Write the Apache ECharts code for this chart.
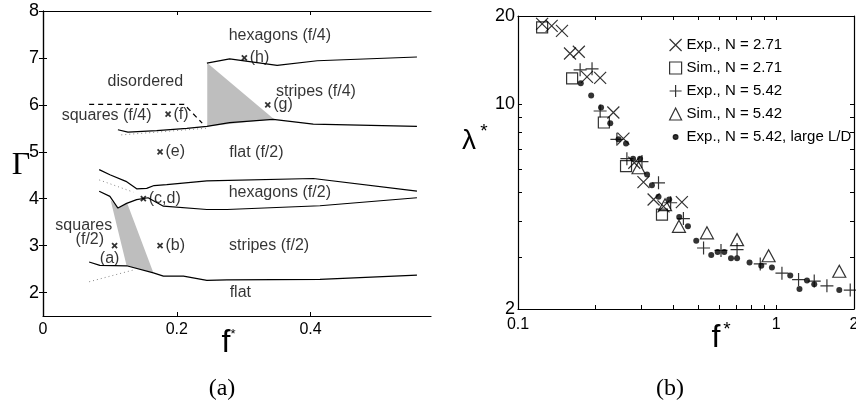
<!DOCTYPE html>
<html>
<head>
<meta charset="utf-8">
<script src="https://cdn.jsdelivr.net/npm/echarts@6/dist/echarts.min.js"></script>
<style>
html, body { margin: 0; padding: 0; background: #fff; }
#main { width: 856px; height: 404px; }
</style>
</head>
<body>
<div id="main"></div>
<script>
// ---------- panel (a): phase diagram, Gamma vs f* ----------
var lineFlatLow   = [[0.069,2.65],[0.085,2.58],[0.125,2.57],[0.165,2.42],[0.180,2.35],[0.210,2.35],[0.245,2.26],[0.275,2.27],[0.414,2.28],[0.559,2.37]];
var lineHexLow    = [[0.084,4.16],[0.100,4.05],[0.112,3.80],[0.125,3.90],[0.140,3.98],[0.157,4.02],[0.180,3.84],[0.245,3.77],[0.275,3.77],[0.414,3.85],[0.559,4.02]];
var lineHexHigh   = [[0.084,4.62],[0.100,4.51],[0.124,4.37],[0.140,4.21],[0.155,4.22],[0.166,4.28],[0.185,4.30],[0.245,4.38],[0.404,4.43],[0.559,4.16]];
var lineFlatF4    = [[0.112,5.47],[0.127,5.42],[0.170,5.45],[0.215,5.50],[0.245,5.54],[0.279,5.62],[0.344,5.69],[0.404,5.59],[0.559,5.54]];
var lineHexF4     = [[0.245,6.89],[0.279,6.98],[0.350,6.84],[0.410,6.94],[0.559,7.02]];
var dotLow        = [[0.069,2.23],[0.135,2.48]];
var dotHex        = [[0.084,4.40],[0.135,4.14]];
var dotF4         = [[0.117,5.36],[0.2435,5.50]];
var dashDisorder  = [[0.069,6.01],[0.211,6.01],[0.238,5.61]];
var shadeF2       = [[0.101,3.97],[0.112,3.80],[0.126,3.90],[0.165,2.42],[0.125,2.57]];
var shadeF4       = [[0.2455,6.89],[0.2455,5.54],[0.345,5.70]];

var pointNames = ['(a)', '(b)', '(c,d)', '(e)', '(f)', '(g)', '(h)'];
var pointF     = [0.107, 0.175, 0.150, 0.175, 0.187, 0.336, 0.301];
var pointG     = [3.0, 3.0, 4.0, 5.0, 5.8, 6.0, 7.0];

var regionNames = ['hexagons (f/4)', 'disordered', 'stripes (f/4)', 'squares (f/4)', 'flat (f/2)',
                   'hexagons (f/2)', 'squares', '(f/2)', 'stripes (f/2)', 'flat'];
var regionF     = [0.354, 0.153, 0.408, 0.095, 0.319, 0.354, 0.061, 0.070, 0.338, 0.295];
var regionG     = [7.48, 6.49, 6.29, 5.78, 4.99, 4.14, 3.43, 3.12, 2.99, 2.0];

var xTicksA = [0, 0.2, 0.4];
var yTicksA = [2, 3, 4, 5, 6, 7, 8];

// ---------- panel (b): lambda* vs f* (log-log) ----------
var expN271 = [[0.124,18.8],[0.135,18.5],[0.148,17.8],[0.159,14.9],[0.172,15.1],[0.185,12.4],[0.208,12.3],
               [0.234,9.37],[0.256,7.63],[0.282,6.31],[0.306,5.42],[0.335,4.73],[0.366,4.48],[0.431,4.63]];
var simN271 = [[0.124,18.3],[0.162,12.25],[0.215,8.66],[0.262,6.15],[0.361,4.20]];
var expN542 = [[0.174,13.1],[0.1935,13.2],[0.208,9.48],[0.2415,7.59],[0.264,6.52],[0.302,6.37],[0.350,5.39],
               [0.390,4.61],[0.437,4.07],[0.523,3.23],[0.611,3.17],[0.705,3.19],[0.867,2.85],[1.052,2.65],
               [1.22,2.52],[1.403,2.49],[1.571,2.40],[1.934,2.32]];
var simN542 = [[0.293,6.07],[0.371,4.54],[0.420,3.83],[0.539,3.64],[0.705,3.45],[0.934,3.04],[1.754,2.69]];
var expLarge = [[0.175,11.8],[0.192,10.7],[0.2097,9.74],[0.2276,8.61],[0.245,7.59],[0.262,7.35],[0.279,6.52],
                [0.297,6.52],[0.316,5.75],[0.330,5.29],[0.350,4.83],[0.385,4.73],[0.421,4.12],[0.455,3.83],
                [0.490,3.42],[0.560,3.06],[0.593,3.13],[0.629,3.13],[0.668,2.98],[0.705,2.98],[0.788,2.88],
                [0.875,2.81],[0.962,2.77],[1.133,2.60],[1.23,2.34],[1.315,2.50],[1.403,2.43],[1.754,2.32]];
var legendNames = ['Exp., N = 2.71', 'Sim., N = 2.71', 'Exp., N = 5.42', 'Sim., N = 5.42', 'Exp., N = 5.42, large L/D'];

var xLabelsB = [0.1, 1, 2];
var xTicksB  = [0.2, 0.3, 0.4, 0.5, 0.6, 0.7, 0.8, 0.9, 1];
var yLabelsB = [2, 10, 20];
var yTicksB  = [3, 4, 5, 6, 7, 8, 9, 10];

var FONT = '"Liberation Sans", Arial, sans-serif';
var SERIF = '"Liberation Serif", "DejaVu Serif", serif';

var crossPath = 'path://M0,0L10,10M10,0L0,10';
var plusPath = 'path://M5,0L5,10M0,5L10,5';
var dotIcon = 'path://M0,0M12,12M3.6,6A2.4,2.4 0 1 1 8.4,6A2.4,2.4 0 1 1 3.6,6Z';

var myChart = echarts.init(document.getElementById('main'));

function lineA(data, type, color, width) {
    return {
        type: 'line', xAxisIndex: 0, yAxisIndex: 0,
        data: data, symbol: 'none', silent: true, animation: false,
        lineStyle: { color: color, width: width, type: type }
    };
}

function shadeA(pts) {
    return {
        type: 'custom', xAxisIndex: 0, yAxisIndex: 0, silent: true, animation: false, z: 1,
        data: pts,
        renderItem: function (params, api) {
            if (params.dataIndex !== 0) return;
            return {
                type: 'polygon',
                shape: { points: pts.map(function (p) { return api.coord(p); }) },
                style: { fill: '#bebebe' }
            };
        }
    };
}

var pointData = pointNames.map(function (n, i) {
    var item = { name: n, value: [pointF[i], pointG[i]] };
    if (n === '(a)') {
        item.label = { position: 'bottom', offset: [-5, 0], distance: 2 };
    }
    return item;
});

var regionData = regionNames.map(function (n, i) {
    return { name: n, value: [regionF[i], regionG[i]] };
});

function boxTicks(values, len) {
    return { show: true, inside: true, length: len, customValues: values, lineStyle: { color: '#000', width: 1 } };
}

option = {
    animation: false,
    backgroundColor: '#fff',
    grid: [
        { left: 43, top: 11, width: 388, height: 305, outerBoundsMode: 'none' },
        { left: 518, top: 16, width: 336, height: 293, outerBoundsMode: 'none' }
    ],
    xAxis: [
        { gridIndex: 0, type: 'value', min: 0, max: 0.58, position: 'bottom',
          axisLine: { lineStyle: { color: '#000', width: 1.2 } },
          axisTick: boxTicks(xTicksA, 4),
          axisLabel: { customValues: xTicksA, margin: 6, color: '#000', fontSize: 16, fontFamily: FONT },
          splitLine: { show: false } },
        { gridIndex: 0, type: 'value', min: 0, max: 0.58, position: 'top',
          axisLine: { lineStyle: { color: '#000', width: 1.2 } },
          axisTick: boxTicks(xTicksA, 4),
          axisLabel: { show: false }, splitLine: { show: false } },
        { gridIndex: 1, type: 'log', logBase: 10, min: 0.1, max: 2, position: 'bottom',
          axisLine: { lineStyle: { color: '#000', width: 1.2 } },
          axisTick: boxTicks(xTicksB, 4),
          axisLabel: { customValues: xLabelsB, margin: 8, color: '#000', fontSize: 16, fontFamily: FONT,
                       formatter: function (v) { return String(+v.toFixed(1)); } },
          splitLine: { show: false }, minorSplitLine: { show: false } },
        { gridIndex: 1, type: 'log', logBase: 10, min: 0.1, max: 2, position: 'top',
          axisLine: { lineStyle: { color: '#000', width: 1.2 } },
          axisTick: boxTicks(xTicksB, 4),
          axisLabel: { show: false }, splitLine: { show: false } }
    ],
    yAxis: [
        { gridIndex: 0, type: 'value', min: 1.5, max: 8, position: 'left',
          axisLine: { show: true, lineStyle: { color: '#000', width: 1.2 } },
          axisTick: boxTicks(yTicksA, 4),
          axisLabel: { customValues: yTicksA, margin: 4, color: '#000', fontSize: 18, fontFamily: FONT },
          splitLine: { show: false } },
        { gridIndex: 0, type: 'value', min: 1.5, max: 8, position: 'right',
          axisLine: { show: true, lineStyle: { color: '#000', width: 1.2 } },
          axisTick: boxTicks(yTicksA, 4),
          axisLabel: { show: false }, splitLine: { show: false } },
        { gridIndex: 1, type: 'log', logBase: 10, min: 2, max: 20, position: 'left',
          axisLine: { show: true, lineStyle: { color: '#000', width: 1.2 } },
          axisTick: boxTicks(yTicksB, 4),
          axisLabel: { customValues: yLabelsB, margin: 3, color: '#000', fontSize: 18, fontFamily: FONT },
          splitLine: { show: false } },
        { gridIndex: 1, type: 'log', logBase: 10, min: 2, max: 20, position: 'right',
          axisLine: { show: true, lineStyle: { color: '#000', width: 1.2 } },
          axisTick: boxTicks(yTicksB, 4),
          axisLabel: { show: false }, splitLine: { show: false } }
    ],
    legend: {
        left: 664, top: 32, orient: 'vertical',
        itemWidth: 12, itemHeight: 12, itemGap: 7,
        selectedMode: false,
        textStyle: { color: '#000', fontSize: 15, fontFamily: FONT, lineHeight: 16 },
        itemStyle: { borderWidth: 1.2 },
        data: [
            { name: legendNames[0], icon: crossPath },
            { name: legendNames[1], icon: 'rect' },
            { name: legendNames[2], icon: plusPath },
            { name: legendNames[3], icon: 'triangle' },
            { name: legendNames[4], icon: dotIcon }
        ]
    },
    graphic: [
        { type: 'text', x: 21, y: 166, style: { text: 'Γ', font: '32px ' + SERIF, fill: '#000', align: 'center', verticalAlign: 'middle' } },
        { type: 'text', x: 226, y: 343, style: { text: 'f', font: '32px ' + FONT, fill: '#000', align: 'center', verticalAlign: 'middle' } },
        { type: 'text', x: 233, y: 334, style: { text: '*', font: '13px ' + FONT, fill: '#000', align: 'center', verticalAlign: 'middle' } },
        { type: 'text', x: 222, y: 389, style: { text: '(a)', font: '24px ' + SERIF, fill: '#000', align: 'center', verticalAlign: 'middle' } },
        { type: 'text', x: 469, y: 141, style: { text: 'λ', font: '28px ' + FONT, fill: '#000', align: 'center', verticalAlign: 'middle' } },
        { type: 'text', x: 484, y: 132, style: { text: '*', font: '19px ' + FONT, fill: '#000', align: 'center', verticalAlign: 'middle' } },
        { type: 'text', x: 716, y: 338, style: { text: 'f', font: '32px ' + FONT, fill: '#000', align: 'center', verticalAlign: 'middle' } },
        { type: 'text', x: 727, y: 330, style: { text: '*', font: '19px ' + FONT, fill: '#000', align: 'center', verticalAlign: 'middle' } },
        { type: 'text', x: 670, y: 389, style: { text: '(b)', font: '24px ' + SERIF, fill: '#000', align: 'center', verticalAlign: 'middle' } }
    ],
    series: [
        shadeA(shadeF2),
        shadeA(shadeF4),
        lineA(lineFlatLow, 'solid', '#000', 1.2),
        lineA(lineHexLow, 'solid', '#000', 1.2),
        lineA(lineHexHigh, 'solid', '#000', 1.2),
        lineA(lineFlatF4, 'solid', '#000', 1.2),
        lineA(lineHexF4, 'solid', '#000', 1.2),
        lineA(dotLow, [1, 3], '#888', 1),
        lineA(dotHex, [1, 3], '#888', 1),
        lineA(dotF4, [1, 3], '#888', 1),
        lineA(dashDisorder, [5, 4], '#000', 1.2),
        {
            type: 'scatter', xAxisIndex: 0, yAxisIndex: 0, silent: true,
            data: pointData, symbol: crossPath, symbolSize: 5,
            itemStyle: { color: 'transparent', borderColor: '#000', borderWidth: 1.8 },
            label: { show: true, position: 'right', distance: 2, formatter: '{b}',
                     color: '#000', fontSize: 16, fontFamily: FONT }
        },
        {
            type: 'scatter', xAxisIndex: 0, yAxisIndex: 0, silent: true,
            data: regionData, symbolSize: 0,
            label: { show: true, position: 'inside', formatter: '{b}',
                     color: '#000', fontSize: 16, fontFamily: FONT }
        },
        {
            name: legendNames[0], type: 'scatter', xAxisIndex: 2, yAxisIndex: 2,
            data: expN271, symbol: crossPath, symbolSize: 12,
            itemStyle: { color: 'transparent', borderColor: '#000', borderWidth: 1.2 }
        },
        {
            name: legendNames[1], type: 'scatter', xAxisIndex: 2, yAxisIndex: 2,
            data: simN271, symbol: 'rect', symbolSize: 11,
            itemStyle: { color: 'transparent', borderColor: '#000', borderWidth: 1.2 }
        },
        {
            name: legendNames[2], type: 'scatter', xAxisIndex: 2, yAxisIndex: 2,
            data: expN542, symbol: plusPath, symbolSize: 13,
            itemStyle: { color: 'transparent', borderColor: '#000', borderWidth: 1.2 }
        },
        {
            name: legendNames[3], type: 'scatter', xAxisIndex: 2, yAxisIndex: 2,
            data: simN542, symbol: 'triangle', symbolSize: [13, 12],
            itemStyle: { color: 'transparent', borderColor: '#000', borderWidth: 1.2 }
        },
        {
            name: legendNames[4], type: 'scatter', xAxisIndex: 2, yAxisIndex: 2,
            data: expLarge, symbol: 'circle', symbolSize: 6,
            itemStyle: { color: '#000', borderColor: '#000', borderWidth: 0 }
        }
    ]
};

myChart.setOption(option);
</script>
</body>
</html>
